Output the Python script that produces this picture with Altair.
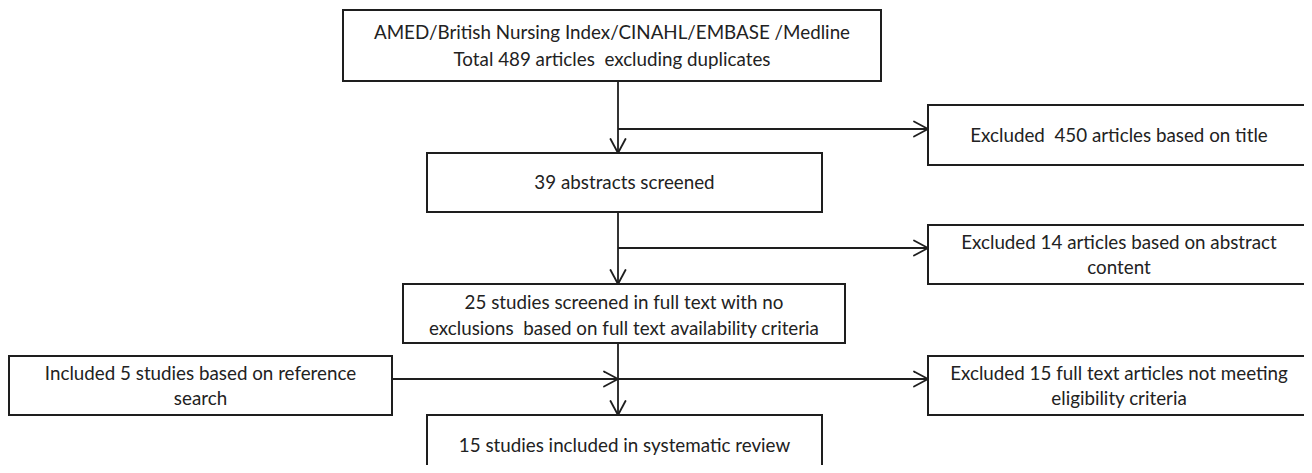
import altair as alt
import pandas as pd

# ---- content ----
box_labels = [
    ["AMED/British Nursing Index/CINAHL/EMBASE /Medline", "Total 489 articles  excluding duplicates"],
    ["Excluded  450 articles based on title"],
    ["39 abstracts screened"],
    ["Excluded 14 articles based on abstract", "content"],
    ["25 studies screened in full text with no", "exclusions  based on full text availability criteria"],
    ["Included 5 studies based on reference", "search"],
    ["Excluded 15 full text articles not meeting", "eligibility criteria"],
    ["15 studies included in systematic review"],
]

# ---- layout (image pixel coordinates) ----
box_x1 = [343, 928, 427, 928, 403, 9, 928, 427]
box_x2 = [881, 1310, 822, 1310, 845, 392, 1310, 822]
box_y1 = [10, 105, 153, 225, 284, 356, 356, 415]
box_y2 = [81, 165, 212, 284, 343, 415, 415, 490]
text_y = [[33, 60], [136], [183], [243, 268], [303, 329], [374, 399], [374, 399], [446]]

# connector lines (x1, y1, x2, y2) and arrow tips (x, y, direction)
line_x1 = [618, 618, 618, 618, 618, 618, 392]
line_y1 = [81, 129, 212, 248, 343, 379, 379]
line_x2 = [618, 928, 618, 928, 618, 928, 618]
line_y2 = [153, 129, 284, 248, 415, 379, 379]
tip_x = [618, 928, 618, 928, 618, 928, 618]
tip_y = [153, 129, 284, 248, 415, 379, 379]
tip_dir = ["down", "right", "down", "right", "down", "right", "right"]

INK = "#1e1e1e"
FONT = "Lato"
W, H = 1296, 457

boxes = pd.DataFrame({"x1": box_x1, "x2": box_x2, "y1": box_y1, "y2": box_y2})
texts = pd.DataFrame(
    [
        {"x": (box_x1[i] + box_x2[i]) / 2, "y": ty, "t": line.replace("  ", " \u00a0")}
        for i, lines in enumerate(box_labels)
        for line, ty in zip(lines, text_y[i])
    ]
)
lines = pd.DataFrame({"x1": line_x1, "y1": line_y1, "x2": line_x2, "y2": line_y2})

L, Wd = 14, 7.5
heads = []
for x, y, d in zip(tip_x, tip_y, tip_dir):
    if d == "right":
        heads += [(x - L, y - Wd, x, y), (x - L, y + Wd, x, y)]
    else:
        heads += [(x - Wd, y - L, x, y), (x + Wd, y - L, x, y)]
heads = pd.DataFrame(heads, columns=["x1", "y1", "x2", "y2"])

xs = alt.Scale(domain=[8, 8 + W])
ys = alt.Scale(domain=[8, 8 + H], reverse=True)


def X(f):
    return alt.X(f, type="quantitative", scale=xs, axis=None)


def Y(f):
    return alt.Y(f, type="quantitative", scale=ys, axis=None)


rect_layer = alt.Chart(boxes).mark_rect(
    fill="white", stroke=INK, strokeWidth=2, clip=True
).encode(x=X("x1"), x2="x2", y=Y("y1"), y2="y2")

line_layer = alt.Chart(lines).mark_rule(color=INK, strokeWidth=1.8).encode(
    x=X("x1"), x2="x2", y=Y("y1"), y2="y2"
)

head_layer = alt.Chart(heads).mark_rule(color=INK, strokeWidth=1.8, strokeCap="round").encode(
    x=X("x1"), x2="x2", y=Y("y1"), y2="y2"
)

text_layer = alt.Chart(texts).mark_text(
    font=FONT, fontSize=18.8, color="#222222", align="center", baseline="middle"
).encode(x=X("x"), y=Y("y"), text="t:N")

chart = (
    alt.layer(line_layer, head_layer, rect_layer, text_layer)
    .properties(width=W, height=H, padding=0, autosize="none", background="white")
    .configure_view(stroke=None)
)

chart.save("out.html", embed_options={"renderer": "svg", "actions": False})
